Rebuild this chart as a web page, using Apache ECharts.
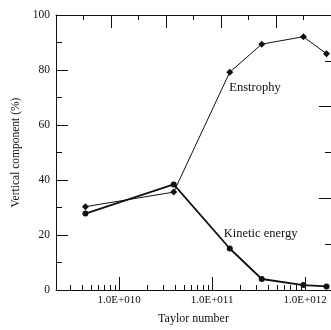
<!DOCTYPE html>
<html>
<head>
<meta charset="utf-8">
<script src="https://cdn.jsdelivr.net/npm/echarts@6/dist/echarts.min.js"></script>
<style>
  html, body { margin: 0; padding: 0; background: #fff; }
  #chart { width: 331px; height: 330px; }
</style>
</head>
<body>
<div id="chart"></div>
<script>
// Taylor numbers (x) shared by both series
const taylor = [4.35e9, 3.87e10, 1.55e11, 3.42e11, 9.6e11, 1.7e12];
// vertical component (%)
const enstrophy = [30.3, 35.6, 79.2, 89.4, 92.1, 85.9];
const kinetic = [27.8, 38.4, 15.1, 4.0, 1.8, 1.3];

const majorTicks = [1e10, 1e11, 1e12];
const minorTicks = [3e9, 4e9, 5e9, 6e9, 7e9, 8e9, 9e9,
  2e10, 3e10, 4e10, 5e10, 6e10, 7e10, 8e10, 9e10,
  2e11, 3e11, 4e11, 5e11, 6e11, 7e11, 8e11, 9e11];

const serif = 'Liberation Serif';
const ink = '#111';

const chart = echarts.init(document.getElementById('chart'));

// label attached to one point of the series
const withLabel = (xs, ys, idx, text, offset) => xs.map((x, i) => {
  if (i !== idx) return [x, ys[i]];
  return {
    value: [x, ys[i]],
    label: {
      show: true, formatter: text, position: 'right', offset: offset,
      fontFamily: serif, fontSize: 12.5, color: ink
    }
  };
});

const fmtLabel = v => {
  const e = Math.round(Math.log10(v));
  return '1.0E+' + String(e).padStart(3, '0');
};

chart.setOption({
  animation: false,
  backgroundColor: '#fff',
  grid: { left: 56, right: 0, top: 15, bottom: 39 },
  xAxis: [
    {
      type: 'log', position: 'bottom', min: 2.1e9, max: 1.9e12,
      axisLine: { lineStyle: { color: ink, width: 1 } },
      axisTick: { inside: true, length: 13, customValues: majorTicks, lineStyle: { color: ink } },
      axisLabel: {
        customValues: majorTicks, formatter: fmtLabel, margin: 5,
        fontFamily: serif, fontSize: 11, color: ink
      },
      splitLine: { show: false },
      name: 'Taylor number', nameLocation: 'middle', nameGap: 23,
      nameTextStyle: { fontFamily: serif, fontSize: 12, color: ink }
    },
    {
      type: 'log', position: 'bottom', min: 2.1e9, max: 1.9e12,
      axisLine: { show: false },
      axisTick: { inside: true, length: 5, customValues: minorTicks, lineStyle: { color: ink } },
      axisLabel: { show: false },
      splitLine: { show: false }
    },
    {
      type: 'value', position: 'top', min: 0, max: 10, interval: 2,
      axisLine: { lineStyle: { color: ink, width: 1 } },
      axisTick: { inside: true, length: 13, lineStyle: { color: ink } },
      minorTick: { show: true, splitNumber: 2, length: 5, lineStyle: { color: ink } },
      axisLabel: { show: false },
      splitLine: { show: false }
    }
  ],
  yAxis: [
    {
      type: 'value', position: 'left', min: 0, max: 100, interval: 20,
      axisLine: { show: true, lineStyle: { color: ink, width: 1 } },
      axisTick: { show: true, inside: true, length: 12, lineStyle: { color: ink } },
      minorTick: { show: true, splitNumber: 2, length: 6, lineStyle: { color: ink } },
      axisLabel: { margin: 6, fontFamily: serif, fontSize: 11.5, color: ink },
      splitLine: { show: false },
      name: 'Vertical component (%)', nameLocation: 'middle', nameGap: 34,
      nameTextStyle: { fontFamily: serif, fontSize: 11.5, color: ink }
    },
    {
      type: 'value', position: 'right', min: 0, max: 6, interval: 2,
      axisLine: { show: false },
      axisTick: { show: true, inside: true, length: 12, lineStyle: { color: ink } },
      minorTick: { show: true, splitNumber: 2, length: 6, lineStyle: { color: ink } },
      axisLabel: { show: false },
      splitLine: { show: false }
    }
  ],
  series: [
    {
      name: 'Enstrophy', type: 'line', xAxisIndex: 0, yAxisIndex: 0,
      data: withLabel(taylor, enstrophy, 2, 'Enstrophy', [-9, 16]),
      symbol: 'diamond', symbolSize: 7,
      lineStyle: { color: ink, width: 1 },
      itemStyle: { color: ink }
    },
    {
      name: 'Kinetic energy', type: 'line', xAxisIndex: 0, yAxisIndex: 0,
      data: withLabel(taylor, kinetic, 2, 'Kinetic energy', [-14, -15]),
      symbol: 'circle', symbolSize: 6,
      lineStyle: { color: ink, width: 1.8 },
      itemStyle: { color: ink }
    }
  ]
});
</script>
</body>
</html>
